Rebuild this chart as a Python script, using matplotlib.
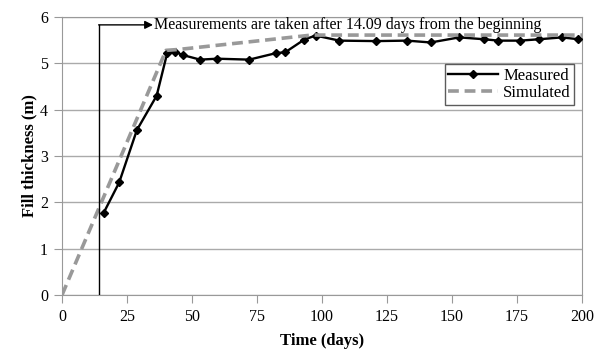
import matplotlib
matplotlib.use("Agg")
import matplotlib.pyplot as plt

plt.rcParams['font.family'] = ['Liberation Serif', 'DejaVu Serif']

meas_t = [16.0, 22.0, 28.8, 36.4, 40.5, 43.5, 46.4, 53.1, 59.7, 72.0, 82.3, 85.9,
          93.1, 97.5, 106.7, 120.8, 132.8, 141.8, 152.8, 162.3, 167.8, 176.2,
          183.6, 192.2, 198.6]
meas_h = [1.77, 2.43, 3.56, 4.30, 5.23, 5.25, 5.18, 5.08, 5.10, 5.08, 5.22, 5.24,
          5.51, 5.60, 5.49, 5.48, 5.49, 5.45, 5.56, 5.52, 5.49, 5.49,
          5.52, 5.56, 5.52]
sim_t = [0, 40, 45, 96, 200]
sim_h = [0, 5.28, 5.30, 5.61, 5.61]
start_day = 14.09
note = "Measurements are taken after 14.09 days from the beginning"

fig = plt.figure(figsize=(6.04, 3.54), dpi=100)
ax = fig.add_axes([62/604, 1 - 295/354, 520/604, 278/354])

ax.plot(sim_t, sim_h, color='#999999', lw=2.6, ls=(0, (3, 1.6)), label='Simulated', zorder=4)
ax.plot(meas_t, meas_h, color='black', lw=1.7, marker='D', ms=4.5, label='Measured', zorder=3)

ax.set_xlim(0, 200)
ax.set_ylim(0, 6)
ax.set_xticks([0, 25, 50, 75, 100, 125, 150, 175, 200])
ax.set_yticks([0, 1, 2, 3, 4, 5, 6])
ax.grid(axis='y', color='#aaaaaa', lw=1)
ax.set_axisbelow(True)
for s in ax.spines.values():
    s.set_color('#999999')
ax.tick_params(direction='out', color='#999999', length=6, labelsize=11.5, pad=4)

ax.set_xlabel('Time (days)', fontsize=12, fontweight='bold', labelpad=6)
ax.set_ylabel('Fill thickness (m)', fontsize=12, fontweight='bold', labelpad=2)

# annotation: vertical line at start day, then arrow to text
ax.plot([start_day, start_day], [0, 5.83], color='black', lw=1, zorder=5)
ax.annotate('', xy=(35, 5.83), xytext=(start_day, 5.83),
            arrowprops=dict(arrowstyle='-|>', color='black', lw=1, mutation_scale=12,
                            shrinkA=0, shrinkB=0))
ax.text(35.5, 5.83, note, fontsize=11.5, va='center', ha='left')

h, l = ax.get_legend_handles_labels()
leg = ax.legend(h[::-1], l[::-1], loc='upper right', bbox_to_anchor=(0.985, 0.83),
                fontsize=12, frameon=True, fancybox=False, edgecolor='#333333',
                handlelength=3, borderpad=0.2, labelspacing=0.1, handletextpad=0.3,
                borderaxespad=0)
leg.get_frame().set_linewidth(1)

fig.savefig('out.png', dpi=100)
